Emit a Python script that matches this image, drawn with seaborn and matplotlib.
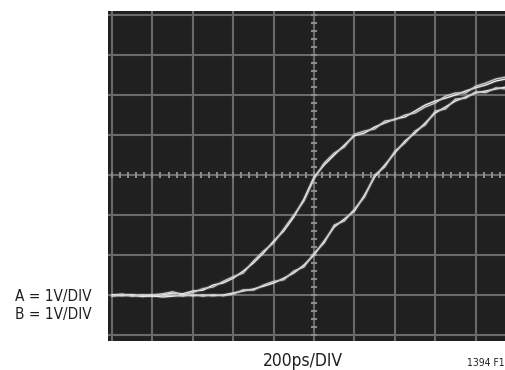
import numpy as np
import pandas as pd
import matplotlib
matplotlib.use("Agg")
import matplotlib.pyplot as plt
import seaborn as sns
from matplotlib import font_manager

# time axis in divisions (200ps/DIV), sampled every quarter division
divs = [i * 0.25 for i in range(40)]

# trace A (left, earlier edge), volts = divisions (1V/DIV), two sweeps
trace_a1 = [1.00, 1.02, 0.98, 1.00, 0.97, 1.00, 1.05, 1.03, 1.10, 1.12,
            1.25, 1.30, 1.42, 1.60, 1.80, 2.05, 2.35, 2.60, 2.95, 3.40,
            3.95, 4.25, 4.50, 4.75, 4.98, 5.05, 5.20, 5.30, 5.40, 5.45,
            5.60, 5.75, 5.85, 5.92, 6.00, 6.10, 6.18, 6.25, 6.35, 6.40]
trace_a2 = [0.97, 1.00, 1.01, 0.96, 1.00, 1.03, 1.08, 1.00, 1.06, 1.16,
            1.20, 1.34, 1.46, 1.55, 1.85, 2.10, 2.30, 2.65, 3.00, 3.35,
            3.90, 4.30, 4.55, 4.70, 5.02, 5.10, 5.15, 5.35, 5.38, 5.50,
            5.55, 5.70, 5.80, 5.97, 6.05, 6.05, 6.22, 6.30, 6.40, 6.45]

# trace B (right, delayed edge), two sweeps
trace_b1 = [1.00, 0.98, 1.00, 0.97, 0.98, 0.95, 0.97, 1.00, 0.98, 1.00,
            0.98, 1.00, 1.05, 1.10, 1.15, 1.22, 1.30, 1.42, 1.55, 1.75,
            2.00, 2.35, 2.70, 2.90, 3.10, 3.50, 3.95, 4.25, 4.55, 4.85,
            5.05, 5.30, 5.55, 5.70, 5.85, 5.95, 6.05, 6.10, 6.15, 6.20]
trace_b2 = [0.98, 1.01, 0.97, 1.00, 1.01, 0.98, 1.00, 0.97, 1.01, 0.97,
            1.01, 0.98, 1.02, 1.13, 1.12, 1.25, 1.34, 1.38, 1.60, 1.70,
            2.05, 2.30, 2.75, 2.85, 3.15, 3.45, 4.00, 4.20, 4.60, 4.80,
            5.10, 5.25, 5.60, 5.65, 5.90, 5.92, 6.08, 6.06, 6.18, 6.15]

rows = []
for name, vals in [("A1", trace_a1), ("A2", trace_a2), ("B1", trace_b1), ("B2", trace_b2)]:
    for t, v in zip(divs, vals):
        rows.append({"t": t, "v": v, "sweep": name})
df = pd.DataFrame(rows)

# condensed face if the system has one
cond = [f for f in font_manager.fontManager.ttflist
        if f.name == "DejaVu Sans" and f.stretch in ("condensed", "semi-condensed", 400)]
use_cond = len(cond) > 0

sns.set_style("dark")
plt.rcParams["font.family"] = ["DejaVu Sans"] if use_cond else ["Liberation Sans"]

fig = plt.figure(figsize=(5.06, 3.70), dpi=100)
fig.patch.set_facecolor("white")
ax = fig.add_axes([108 / 506, 1 - 341 / 370, 398 / 506, 330 / 370])
ax.set_facecolor("#202020")

# graticule
for x in range(0, 11):
    ax.axvline(x, color="#6a6a6a", lw=1.5, zorder=1)
for y in range(0, 9):
    ax.axhline(y, color="#6a6a6a", lw=1.5, zorder=1)
minor = np.arange(0, 10.01, 0.2)
ax.plot(minor, np.full_like(minor, 4), ls="none", marker="|", ms=5, mew=1.5, color="#8c8c8c", zorder=2)
minor_y = np.arange(0, 8.01, 0.2)
ax.plot(np.full_like(minor_y, 5), minor_y, ls="none", marker="_", ms=5, mew=1.5, color="#8c8c8c", zorder=2)

# soft glow under the traces, then the traces
sns.lineplot(data=df, x="t", y="v", units="sweep", estimator=None, color="#bbbbbb",
             lw=2.6, alpha=0.15, legend=False, ax=ax, zorder=3)
sns.lineplot(data=df, x="t", y="v", hue="sweep", units="sweep", estimator=None,
             palette=["#ececec", "#cccccc", "#ececec", "#cccccc"],
             lw=1.0, legend=False, ax=ax, zorder=4)

ax.set_xlim(-0.099, 9.75)
ax.set_ylim(-0.15, 8.1)
ax.set_xticks([])
ax.set_yticks([])
ax.set_xlabel("")
ax.set_ylabel("")
for s in ax.spines.values():
    s.set_visible(False)

stretch = "condensed" if use_cond else "normal"
side = 11.0 if use_cond else 11.0
bottom = 12.5 if use_cond else 12.0
fig.text(15 / 506, 1 - 296 / 370, "A = 1V/DIV", fontsize=side, fontstretch=stretch, va="center", ha="left", color="#231f20")
fig.text(15 / 506, 1 - 315 / 370, "B = 1V/DIV", fontsize=side, fontstretch=stretch, va="center", ha="left", color="#231f20")
fig.text(263 / 506, 1 - 361 / 370, "200ps/DIV", fontsize=bottom, fontstretch=stretch, va="center", ha="left", color="#231f20")
fig.text(505 / 506, 1 - 362.5 / 370, "1394 F1", fontsize=7.5, fontstretch=stretch, va="center", ha="right", color="#231f20")

fig.savefig("out.png", dpi=100)
